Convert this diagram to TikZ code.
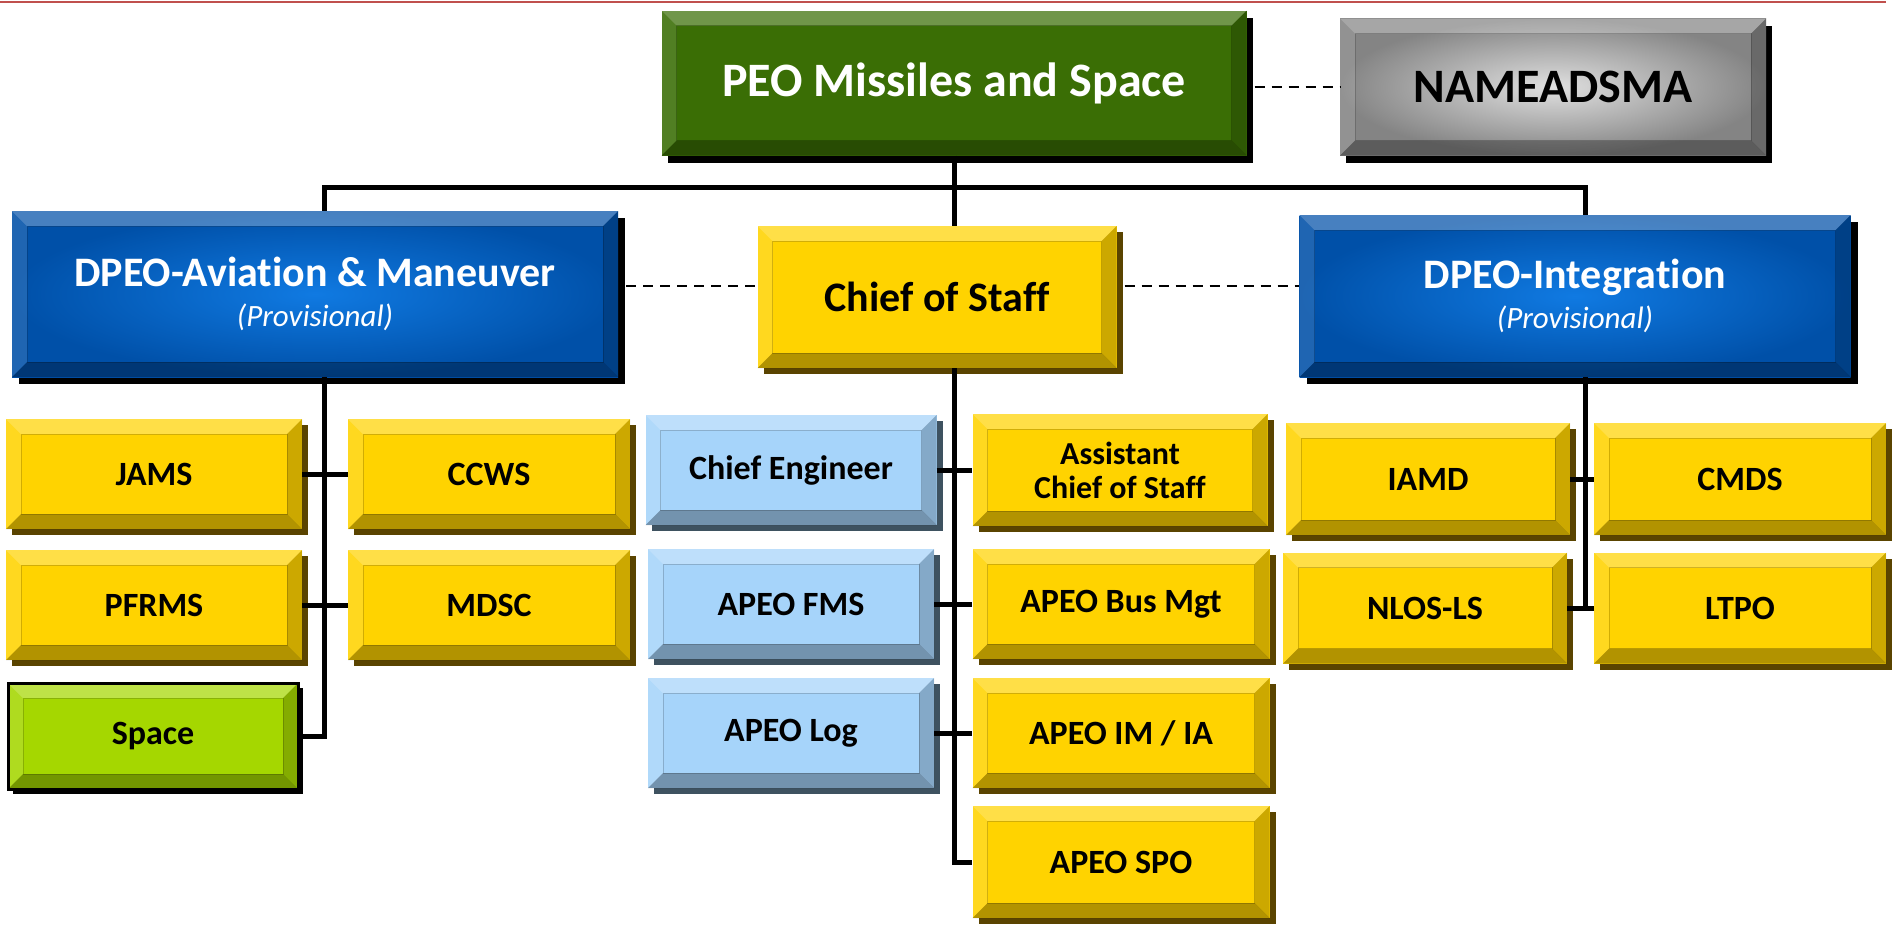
\documentclass[tikz,border=0pt]{standalone}
\usepackage{fontspec}
\setmainfont{Carlito}[RawFeature={-liga;-calt;-dlig}]
\usepackage{tikz}
\usetikzlibrary{calc, shadows, positioning}
\definecolor{peogreen}{RGB}{58,110,5}
\definecolor{spacegreen}{RGB}{165,215,0}
\definecolor{dpeoblue}{RGB}{16,122,226}
\definecolor{dpeodark}{RGB}{0,80,168}
\definecolor{staffgold}{RGB}{255,211,0}
\definecolor{golddark}{RGB}{90,68,0}
\definecolor{apeoblue}{RGB}{166,212,250}
\definecolor{apeodark}{RGB}{62,82,96}
\definecolor{namlight}{RGB}{224,224,224}
\definecolor{namdark}{RGB}{132,132,132}
\definecolor{topline}{RGB}{192,80,77}
\newcommand*{\fsz}[2]{\fontsize{#1}{#2}\selectfont}

\tikzset{
 bevel/.style={path picture={
  \coordinate (bvnw) at (path picture bounding box.north west);
  \coordinate (bvse) at (path picture bounding box.south east);
  \coordinate (bvne) at (bvnw -| bvse);
  \coordinate (bvsw) at (bvnw |- bvse);
  \fill[white,opacity=.28] (bvnw) -- (bvne) -- ($(bvne)+(-15pt,-15pt)$) -- ($(bvnw)+(15pt,-15pt)$) -- cycle;
  \fill[white,opacity=.12] (bvnw) -- ($(bvnw)+(15pt,-15pt)$) -- ($(bvsw)+(15pt,15pt)$) -- (bvsw) -- cycle;
  \fill[black,opacity=.3] (bvsw) -- ($(bvsw)+(15pt,15pt)$) -- ($(bvse)+(-15pt,15pt)$) -- (bvse) -- cycle;
  \fill[black,opacity=.2] (bvse) -- ($(bvse)+(-15pt,15pt)$) -- ($(bvne)+(-15pt,-15pt)$) -- (bvne) -- cycle;
  \draw[black,opacity=.18,line width=1pt] ($(bvnw)+(15pt,-15pt)$) rectangle ($(bvse)+(-15pt,15pt)$);
 }},
 orgbox/.style={rectangle, inner sep=0pt, align=center, text=black, font=\bfseries\fsz{34}{38}, minimum width=290pt, minimum height=110pt, bevel},
 goldbox/.style={orgbox, fill=staffgold, drop shadow={opacity=1, fill=golddark, shadow xshift=6pt, shadow yshift=-6pt}},
 apeobox/.style={orgbox, fill=apeoblue, drop shadow={opacity=1, fill=apeodark, shadow xshift=6pt, shadow yshift=-6pt}},
 spacebox/.style={orgbox, fill=spacegreen, draw=black, line width=3pt, drop shadow={opacity=1, fill=black, shadow xshift=5pt, shadow yshift=-5pt}},
 dpeobox/.style={orgbox, inner color=dpeoblue, outer color=dpeodark, text=white, font=\bfseries\fsz{42}{44}, drop shadow={opacity=1, fill=black, shadow xshift=7pt, shadow yshift=-7pt}},
 peobox/.style={orgbox, fill=peogreen, text=white, font=\bfseries\fsz{48}{52}, drop shadow={opacity=1, fill=black, shadow xshift=6pt, shadow yshift=-7pt}},
 nambox/.style={orgbox, inner color=namlight, outer color=namdark, font=\bfseries\fsz{48}{52}, drop shadow={opacity=1, fill=black, shadow xshift=6pt, shadow yshift=-7pt}},
 trunk/.style={line width=5pt},
 dashline/.style={line width=2.5pt, dash pattern=on 10pt off 7pt},
}

\begin{document}
\begin{tikzpicture}[x=1pt, y=-1pt]
 \useasboundingbox (0,0) rectangle (1893,929);
 \draw[topline, line width=2pt] (0,1.5) -- (1886,1.5);

 \node[peobox, minimum width=585pt, minimum height=145pt] (peo) at (954,83) {PEO Missiles and Space};
 \node[nambox, minimum width=426pt, minimum height=137pt] (nam) at (1553,87) {NAMEADSMA};
 \node[dpeobox, minimum width=606pt, minimum height=166pt] (dpeoa) at (315,294) {DPEO-Aviation \& Maneuver\\[-4pt]{\fsz{31}{34}\mdseries\itshape (Provisional)}};
 \node[goldbox, font=\bfseries\fsz{42}{44}, minimum width=359pt, minimum height=142pt] (cos) at (937,297) {Chief of Staff};
 \node[dpeobox, minimum width=551pt, minimum height=162pt] (dpeoi) at (1575,296) {DPEO-Integration\\[-4pt]{\fsz{31}{34}\mdseries\itshape (Provisional)}};

 \node[goldbox, minimum width=296pt] (jams) at (154,474) {JAMS};
 \node[goldbox, minimum width=282pt] (ccws) at (489,474) {CCWS};
 \node[goldbox, minimum width=296pt] (pfrms) at (154,605) {PFRMS};
 \node[goldbox, minimum width=282pt] (mdsc) at (489,605) {MDSC};
 \node[spacebox, minimum width=290pt, minimum height=106pt] (space) at (153,736) {Space};

 \node[apeobox, minimum width=291pt] (ce) at (791,470) {Chief Engineer};
 \node[goldbox, minimum width=295pt, minimum height=112pt, font=\bfseries\fsz{32}{34}] (acs) at (1120,470) {Assistant\\Chief of Staff};
 \node[apeobox, minimum width=286pt] (fms) at (791,604) {APEO FMS};
 \node[goldbox, minimum width=297pt] (bus) at (1121,604) {APEO Bus Mgt};
 \node[apeobox, minimum width=286pt] (log) at (791,733) {APEO Log};
 \node[goldbox, minimum width=297pt] (imia) at (1121,733) {APEO IM / IA};
 \node[goldbox, minimum width=297pt, minimum height=112pt] (spo) at (1121,862) {APEO SPO};

 \node[goldbox, minimum width=284pt, minimum height=112pt] (iamd) at (1428,479) {IAMD};
 \node[goldbox, minimum width=292pt, minimum height=112pt] (cmds) at (1740,479) {CMDS};
 \node[goldbox, minimum width=284pt, minimum height=111pt] (nlos) at (1425,608) {NLOS-LS};
 \node[goldbox, minimum width=292pt, minimum height=111pt] (ltpo) at (1740,608) {LTPO};

 \coordinate (busL) at (324,187);
 \coordinate (busR) at (1585,187);
 \draw[trunk] (peo.south) -- (peo.south |- cos.north);
 \draw[trunk] (dpeoa.north -| busL) -- (busL) -- (busR) -- (dpeoi.north -| busR);
 \draw[dashline] ([xshift=8pt]nam.west -| peo.east) -- (nam.west);
 \draw[dashline] ([xshift=8pt,yshift=11pt]cos.west -| dpeoa.east) -- ([yshift=11pt]cos.west);
 \draw[dashline] ([xshift=8pt,yshift=11pt]cos.east) -- ([yshift=11pt]cos.east -| dpeoi.west);

 \draw[trunk] (dpeoa.south -| busL) |- (space.east);
 \draw[trunk] (jams.east) -- (ccws.west);
 \draw[trunk] (pfrms.east) -- (mdsc.west);

 \draw[trunk] (cos.south -| peo.south) |- (spo.west);
 \draw[trunk] (ce.east) -- (acs.west);
 \draw[trunk] (fms.east) -- (bus.west);
 \draw[trunk] (log.east) -- (imia.west);

 \draw[trunk] (dpeoi.south -| busR) -- (nlos.east -| busR);
 \draw[trunk] (iamd.east) -- (cmds.west);
 \draw[trunk] (nlos.east) -- (ltpo.west);
\end{tikzpicture}
\end{document}
